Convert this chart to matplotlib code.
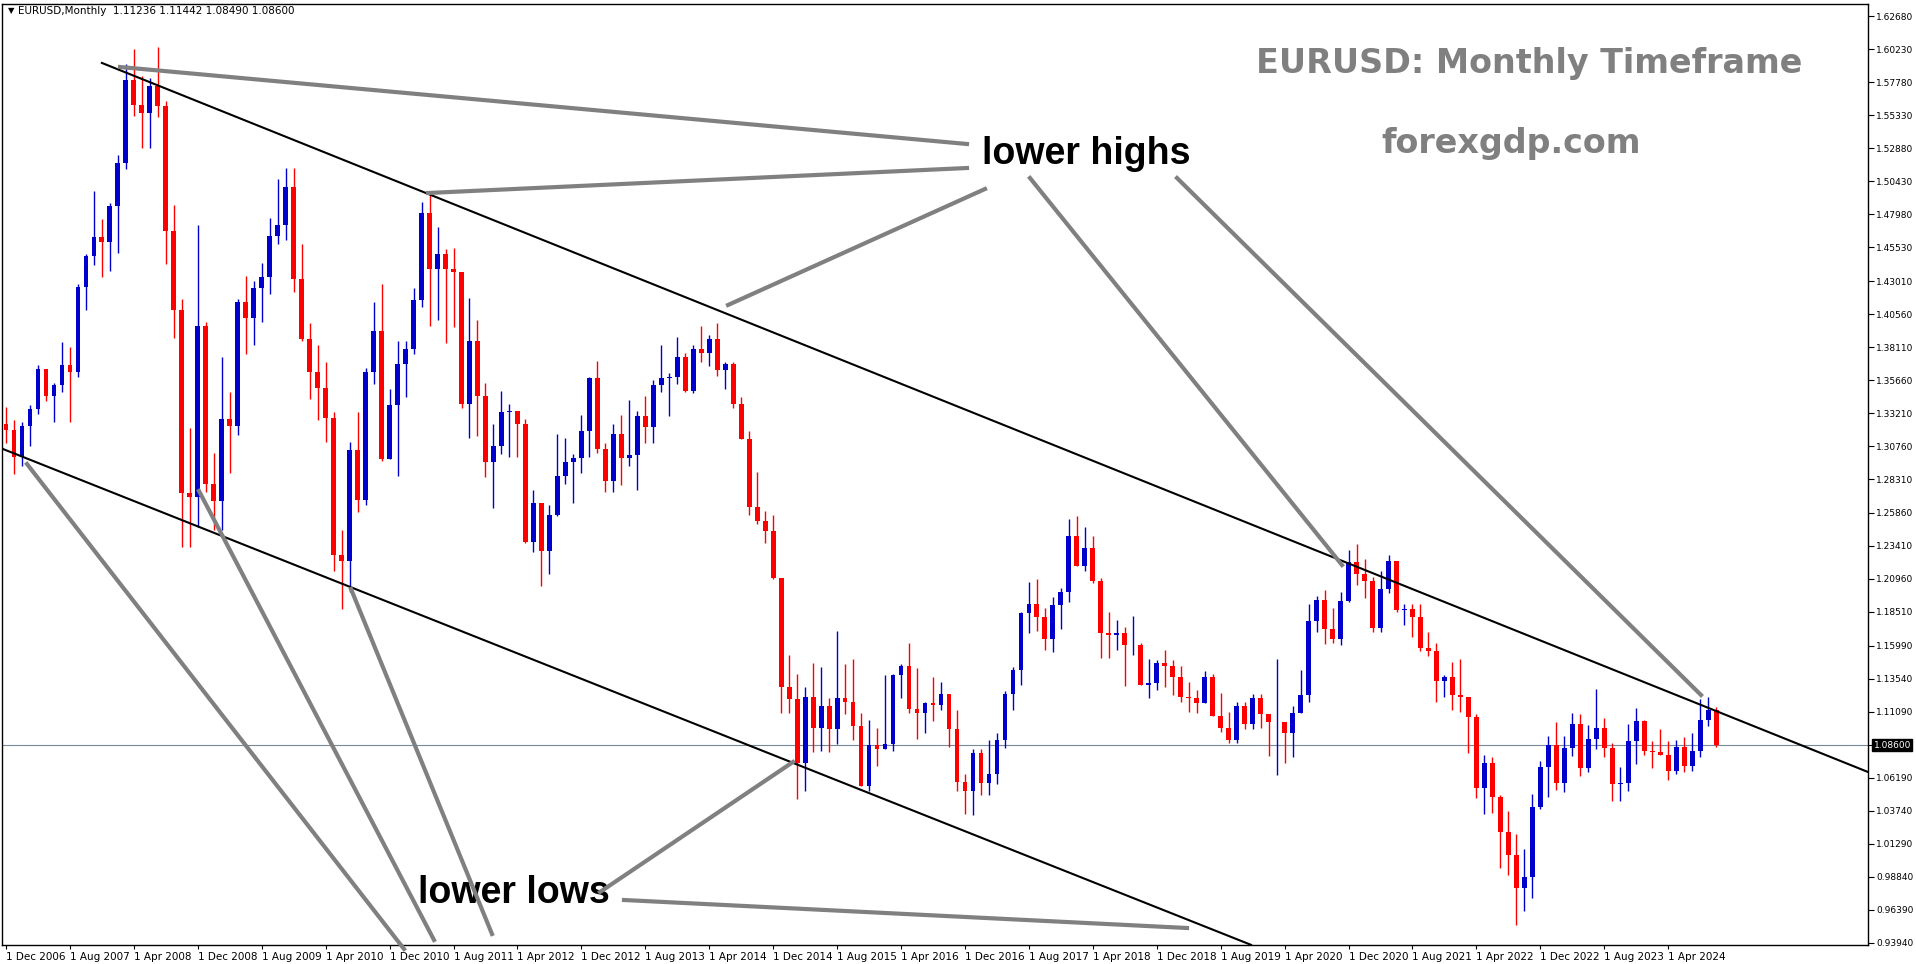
import numpy as np
import matplotlib.pyplot as plt
from matplotlib.patches import Rectangle

# monthly EURUSD candles, Nov 2006 .. Oct 2024
closes = [
    1.3240, 1.3200,
    1.3000, 1.3230, 1.3355, 1.3650, 1.3450, 1.3530, 1.3680, 1.3630, 1.4260, 1.4490, 1.4630, 1.4590,
    1.4860, 1.5180, 1.5790, 1.5610, 1.5550, 1.5750, 1.5600, 1.4670, 1.4090, 1.2730, 1.2700, 1.3970,
    1.2800, 1.2670, 1.3280, 1.3230, 1.4150, 1.4030, 1.4250, 1.4330, 1.4640, 1.4720, 1.5000, 1.4320,
    1.3870, 1.3630, 1.3510, 1.3290, 1.2270, 1.2230, 1.3050, 1.2680, 1.3630, 1.3930, 1.2980, 1.3380,
    1.3690, 1.3800, 1.4160, 1.4810, 1.4390, 1.4500, 1.4390, 1.4370, 1.3390, 1.3860, 1.3450, 1.2960,
    1.3080, 1.3330, 1.3340, 1.3240, 1.2370, 1.2660, 1.2300, 1.2570, 1.2860, 1.2960, 1.2990, 1.3190,
    1.3580, 1.3060, 1.2820, 1.3170, 1.2990, 1.3010, 1.3300, 1.3220, 1.3530, 1.3580, 1.3590, 1.3740,
    1.3490, 1.3800, 1.3770, 1.3870, 1.3640, 1.3690, 1.3390, 1.3130, 1.2630, 1.2520, 1.2450, 1.2100,
    1.1290, 1.1200, 1.0730, 1.1220, 1.0990, 1.1150, 1.0980, 1.1210, 1.1180, 1.1000, 1.0560, 1.0860,
    1.0830, 1.0870, 1.1380, 1.1450, 1.1130, 1.1100, 1.1170, 1.1160, 1.1240, 1.0980, 1.0590, 1.0520,
    1.0800, 1.0580, 1.0650, 1.0900, 1.1240, 1.1420, 1.1840, 1.1910, 1.1810, 1.1650, 1.1900, 1.2000,
    1.2410, 1.2190, 1.2320, 1.2080, 1.1690, 1.1680, 1.1690, 1.1600, 1.1600, 1.1310, 1.1320, 1.1470,
    1.1450, 1.1370, 1.1220, 1.1210, 1.1170, 1.1370, 1.1080, 1.0990, 1.0900, 1.1150, 1.1020, 1.1210,
    1.1090, 1.1030, 1.1030, 1.0950, 1.1100, 1.1230, 1.1780, 1.1940, 1.1720, 1.1650, 1.1930, 1.2220,
    1.2130, 1.2080, 1.1730, 1.2020, 1.2230, 1.1860, 1.1870, 1.1810, 1.1580, 1.1560, 1.1340, 1.1370,
    1.1230, 1.1220, 1.1070, 1.0540, 1.0730, 1.0480, 1.0220, 1.0050, 0.9800, 0.9880, 1.0400, 1.0700,
    1.0860, 1.0580, 1.0840, 1.1020, 1.0690, 1.0910, 1.0990, 1.0840, 1.0570, 1.0580, 1.0890, 1.1040,
    1.0820, 1.0810, 1.0790, 1.0670, 1.0850, 1.0710, 1.0820, 1.1050, 1.1124, 1.0860,
]
highs = [
    1.3330, 1.3370,
    1.3270, 1.3260, 1.3380, 1.3680, 1.3640, 1.3550, 1.3850, 1.3810, 1.4280, 1.4500, 1.4970, 1.4760,
    1.4880, 1.5240, 1.5910, 1.6020, 1.5820, 1.5810, 1.6040, 1.5640, 1.4870, 1.4170, 1.3210, 1.4720,
    1.4000, 1.3030, 1.3740, 1.3480, 1.4170, 1.4340, 1.4300, 1.4440, 1.4770, 1.5060, 1.5140, 1.5140,
    1.4580, 1.3990, 1.3830, 1.3700, 1.3330, 1.2460, 1.3110, 1.3330, 1.3660, 1.4150, 1.4280, 1.3500,
    1.3860, 1.3860, 1.4250, 1.4890, 1.4940, 1.4700, 1.4540, 1.4550, 1.4350, 1.4180, 1.4010, 1.3550,
    1.3240, 1.3490, 1.3390, 1.3280, 1.3280, 1.2750, 1.2400, 1.2640, 1.3170, 1.3140, 1.3020, 1.3310,
    1.3590, 1.3710, 1.3100, 1.3240, 1.3310, 1.3420, 1.3340, 1.3450, 1.3570, 1.3830, 1.3620, 1.3890,
    1.3770, 1.3830, 1.3970, 1.3900, 1.3990, 1.3700, 1.3700, 1.3440, 1.3190, 1.2890, 1.2600, 1.2570,
    1.2100, 1.1530, 1.1390, 1.1290, 1.1470, 1.1440, 1.1210, 1.1710, 1.1460, 1.1500, 1.1100, 1.1050,
    1.0990, 1.1380, 1.1390, 1.1460, 1.1620, 1.1430, 1.1180, 1.1370, 1.1330, 1.1240, 1.1120, 1.0650,
    1.0830, 1.0830, 1.0900, 1.0950, 1.1260, 1.1440, 1.1850, 1.2070, 1.2090, 1.1880, 1.1960, 1.2030,
    1.2540, 1.2560, 1.2480, 1.2410, 1.2100, 1.1850, 1.1790, 1.1740, 1.1820, 1.1620, 1.1500, 1.1490,
    1.1570, 1.1490, 1.1450, 1.1330, 1.1270, 1.1410, 1.1390, 1.1250, 1.1110, 1.1180, 1.1180, 1.1240,
    1.1240, 1.1050, 1.1500, 1.1020, 1.1150, 1.1420, 1.1910, 1.1970, 1.2010, 1.1880, 1.2000, 1.2310,
    1.2350, 1.2240, 1.2110, 1.2150, 1.2270, 1.2220, 1.1910, 1.1910, 1.1910, 1.1700, 1.1620, 1.1380,
    1.1480, 1.1500, 1.1180, 1.1090, 1.0790, 1.0770, 1.0490, 1.0370, 1.0200, 1.0090, 1.0500, 1.0740,
    1.0930, 1.1030, 1.0930, 1.1100, 1.1090, 1.1010, 1.1280, 1.1060, 1.0880, 1.0700, 1.1020, 1.1140,
    1.1050, 1.0890, 1.0980, 1.0890, 1.0900, 1.0920, 1.0950, 1.1200, 1.1220, 1.1144,
]
lows = [
    1.2750, 1.3100,
    1.2870, 1.2930, 1.3080, 1.3320, 1.3410, 1.3260, 1.3480, 1.3260, 1.3590, 1.4090, 1.4420, 1.4330,
    1.4380, 1.4510, 1.5130, 1.5530, 1.5290, 1.5290, 1.5520, 1.4430, 1.3880, 1.2330, 1.2330, 1.2480,
    1.2740, 1.2460, 1.2460, 1.2880, 1.3160, 1.3760, 1.3830, 1.4000, 1.4210, 1.4580, 1.4610, 1.4220,
    1.3860, 1.3430, 1.3270, 1.3110, 1.2150, 1.1870, 1.2000, 1.2590, 1.2640, 1.3540, 1.2970, 1.3010,
    1.2860, 1.3440, 1.3760, 1.4110, 1.3970, 1.4010, 1.3840, 1.3960, 1.3360, 1.3140, 1.3150, 1.2850,
    1.2620, 1.3020, 1.3000, 1.3000, 1.2360, 1.2290, 1.2040, 1.2130, 1.2560, 1.2800, 1.2660, 1.2880,
    1.3000, 1.3030, 1.2740, 1.2740, 1.2790, 1.2930, 1.2750, 1.3100, 1.3100, 1.3480, 1.3300, 1.3540,
    1.3480, 1.3470, 1.3700, 1.3670, 1.3600, 1.3500, 1.3360, 1.3130, 1.2570, 1.2500, 1.2360, 1.2090,
    1.1100, 1.1100, 1.0460, 1.0520, 1.0810, 1.0820, 1.0810, 1.0870, 1.1090, 1.0900, 1.0560, 1.0520,
    1.0710, 1.0860, 1.0820, 1.1210, 1.1100, 1.0910, 1.0950, 1.1040, 1.1120, 1.0850, 1.0520, 1.0350,
    1.0340, 1.0490, 1.0490, 1.0570, 1.0840, 1.1120, 1.1310, 1.1690, 1.1710, 1.1570, 1.1550, 1.1720,
    1.1920, 1.2190, 1.2150, 1.2060, 1.1510, 1.1510, 1.1570, 1.1300, 1.1530, 1.1330, 1.1210, 1.1270,
    1.1290, 1.1230, 1.1180, 1.1110, 1.1100, 1.1180, 1.1100, 1.0960, 1.0880, 1.0880, 1.0980, 1.0980,
    1.0990, 1.0780, 1.0640, 1.0730, 1.0770, 1.1110, 1.1180, 1.1700, 1.1610, 1.1620, 1.1600, 1.1920,
    1.2050, 1.1950, 1.1700, 1.1700, 1.1990, 1.1850, 1.1750, 1.1660, 1.1560, 1.1520, 1.1180, 1.1220,
    1.1120, 1.1110, 1.0800, 1.0470, 1.0350, 1.0360, 0.9950, 0.9900, 0.9530, 0.9630, 0.9730, 1.0390,
    1.0480, 1.0530, 1.0510, 1.0780, 1.0630, 1.0660, 1.0830, 1.0770, 1.0450, 1.0450, 1.0520, 1.0720,
    1.0790, 1.0690, 1.0800, 1.0600, 1.0650, 1.0660, 1.0670, 1.0770, 1.1000, 1.0849,
]
first_open = 1.3160
last_price = 1.08600

price_ticks = [1.62680, 1.60230, 1.57780, 1.55330, 1.52880, 1.50430, 1.47980, 1.45530,
               1.43010, 1.40560, 1.38110, 1.35660, 1.33210, 1.30760, 1.28310, 1.25860,
               1.23410, 1.20960, 1.18510, 1.15990, 1.13540, 1.11090, 1.06190, 1.03740,
               1.01290, 0.98840, 0.96390, 0.93940]
date_labels = ["1 Dec 2006", "1 Aug 2007", "1 Apr 2008", "1 Dec 2008", "1 Aug 2009",
               "1 Apr 2010", "1 Dec 2010", "1 Aug 2011", "1 Apr 2012", "1 Dec 2012",
               "1 Aug 2013", "1 Apr 2014", "1 Dec 2014", "1 Aug 2015", "1 Apr 2016",
               "1 Dec 2016", "1 Aug 2017", "1 Apr 2018", "1 Dec 2018", "1 Aug 2019",
               "1 Apr 2020", "1 Dec 2020", "1 Aug 2021", "1 Apr 2022", "1 Dec 2022",
               "1 Aug 2023", "1 Apr 2024"]

# channel lines (month index, price)
upper_channel = [(13, 1.592), (234.5, 1.065)]
lower_channel = [(0.5, 1.306), (156.8, 0.938)]

# gray pointer lines in image pixels
pointers = [
    ((120, 67), (967, 144)), ((428, 193), (967, 168)), ((728, 305), (985, 189)),
    ((1030, 178), (1342, 565)), ((1177, 178), (1701, 695)),
    ((27, 464), (404, 949)), ((199, 491), (434, 940)), ((351, 589), (492, 934)),
    ((793, 762), (600, 892)), ((624, 900), (1187, 928)),
]

W, H = 1916, 964
fig = plt.figure(figsize=(W / 100, H / 100), dpi=100)
ax = fig.add_axes([2 / W, (H - 945) / H, 1866 / W, 941 / H])

closes = np.array(closes)
opens = np.concatenate([[first_open], closes[:-1]])
highs = np.maximum(np.array(highs), np.maximum(opens, closes))
lows = np.minimum(np.array(lows), np.minimum(opens, closes))
idx = np.arange(len(closes))

for i in idx:
    col = "#0000cc" if closes[i] >= opens[i] else "#ff0000"
    ax.plot([i, i], [lows[i], highs[i]], color=col, lw=1, solid_capstyle="butt", zorder=3)
    bot = min(opens[i], closes[i])
    h = max(abs(closes[i] - opens[i]), 0.0006)
    ax.add_patch(Rectangle((i - 0.3, bot), 0.6, h, color=col, lw=0, zorder=4))

ax.axhline(last_price, color="#778899", lw=0.8, zorder=2)
for (x0, y0), (x1, y1) in [upper_channel, lower_channel]:
    ax.plot([x0, x1], [y0, y1], color="black", lw=1.5, zorder=5)

ax.set_xlim(0.5, 234.0)
ax.set_ylim(0.9379, 1.6357)

ax.yaxis.tick_right()
ax.set_yticks(price_ticks + [last_price])
ax.set_yticklabels([f"{p:.5f}" for p in price_ticks] + [""], fontsize=6.5)
ax.tick_params(axis="y", length=4, pad=2, direction="out")
ax.text(1.003, last_price, f"{last_price:.5f}", transform=ax.get_yaxis_transform(),
        color="white", fontsize=6.5, va="center", ha="left",
        bbox=dict(boxstyle="square,pad=0.15", fc="black", ec="black"))

ax.set_xticks(1 + 8 * np.arange(len(date_labels)))
ax.set_xticklabels(date_labels, fontsize=7.5, ha="left")
ax.tick_params(axis="x", length=3, pad=2, direction="out")
for s in ax.spines.values():
    s.set_linewidth(1)

for (x0, y0), (x1, y1) in pointers:
    fig.add_artist(plt.Line2D([x0 / W, x1 / W], [1 - y0 / H, 1 - y1 / H],
                              color="#808080", lw=3, zorder=6))

fig.text(1086 / W, 1 - 154 / H, "lower highs", fontsize=27, weight="bold",
         family="Liberation Sans", ha="center", va="center")
fig.text(514 / W, 1 - 893 / H, "lower lows", fontsize=27, weight="bold",
         family="Liberation Sans", ha="center", va="center")
fig.text(1529 / W, 1 - 64 / H, "EURUSD: Monthly Timeframe", fontsize=24, weight="bold",
         color="#808080", ha="center", va="center")
fig.text(1511 / W, 1 - 144 / H, "forexgdp.com", fontsize=24, weight="bold",
         color="#808080", ha="center", va="center")
fig.text(8 / W, 1 - 11 / H, "\u25bc", fontsize=6, va="center")
fig.text(18 / W, 1 - 11 / H, "EURUSD,Monthly  1.11236 1.11442 1.08490 1.08600",
         fontsize=7.5, va="center")

fig.savefig("out.png", dpi=100)
